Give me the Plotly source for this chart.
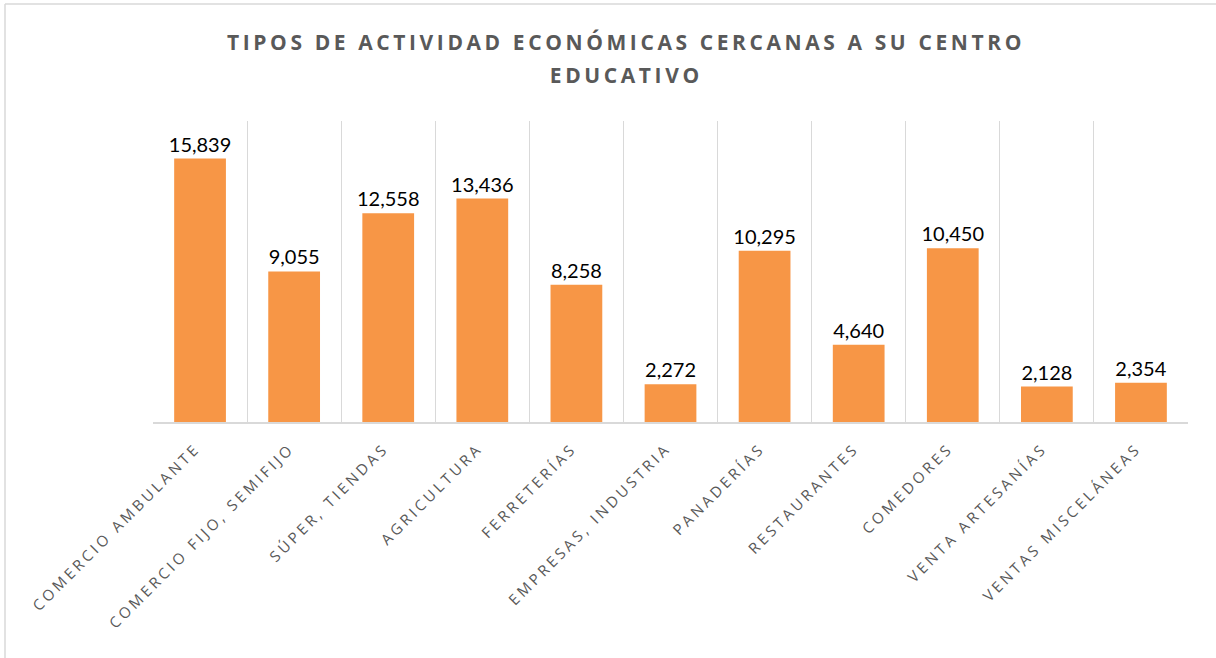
import plotly.graph_objects as go

categories = ["COMERCIO AMBULANTE", "COMERCIO FIJO, SEMIFIJO", "SÚPER, TIENDAS", "AGRICULTURA",
              "FERRETERÍAS", "EMPRESAS, INDUSTRIA", "PANADERÍAS", "RESTAURANTES",
              "COMEDORES", "VENTA ARTESANÍAS", "VENTAS MISCELÁNEAS"]
values = [15839, 9055, 12558, 13436, 8258, 2272, 10295, 4640, 10450, 2128, 2354]
labels = [f"{v:,}" for v in values]
title_lines = ["TIPOS DE ACTIVIDAD ECONÓMICAS CERCANAS A SU CENTRO", "EDUCATIVO"]

W, H = 1216, 658
L, R, T, B = 153, 28, 121, 236

fig = go.Figure(go.Bar(
    x=categories, y=values, text=labels, textposition="outside",
    textfont=dict(family="Lato, Carlito, sans-serif", size=20, color="#000000"),
    marker=dict(color="#F79646", line=dict(width=0)),
    width=0.55, cliponaxis=False, constraintext="none",
))

pw = W - L - R
ph = H - T - B

annotations = []
for i, (line, ypx) in enumerate(zip(title_lines, [42, 75])):
    annotations.append(dict(
        text=f"<b>{line}</b>", xref="paper", yref="paper",
        x=(626 - L) / pw, y=(H - B - ypx) / ph, xanchor="center", yanchor="middle",
        showarrow=False, font=dict(family="Open Sans, sans-serif", size=21, color="#595959"),
    ))

fig.update_layout(
    width=W, height=H,
    margin=dict(l=L, r=R, t=T, b=B, autoexpand=False),
    paper_bgcolor="white", plot_bgcolor="white",
    showlegend=False,
    annotations=annotations,
    xaxis=dict(
        tickangle=-45, tickson="boundaries", showgrid=True, gridcolor="#D9D9D9", gridwidth=1.3,
        showline=True, linecolor="#D9D9D9", linewidth=1.5, ticks="",
        ticklabelshift=-4, ticklabelstandoff=10,
        tickfont=dict(family="Open Sans, sans-serif", size=15, color="#595959"),
        range=[-0.5, len(categories) - 0.5],
    ),
    yaxis=dict(range=[0, 18100], showgrid=False, showticklabels=False, zeroline=False, ticks=""),
    shapes=[
        dict(type="line", xref="paper", yref="paper",
             x0=(5 - L) / pw, x1=(5 - L) / pw, y0=(H - B - 4) / ph, y1=(H - B - H - 5) / ph,
             line=dict(color="#D9D9D9", width=1.5)),
        dict(type="line", xref="paper", yref="paper",
             x0=(5 - L) / pw, x1=(W + 5 - L) / pw, y0=(H - B - 4) / ph, y1=(H - B - 4) / ph,
             line=dict(color="#D9D9D9", width=1.5)),
    ],
)

post = """
var s = document.createElement('style');
s.innerHTML = 'body{margin:0 !important;} .xtick text{letter-spacing:3.3px;} .annotation-text{letter-spacing:3.6px;}';
document.head.appendChild(s);
"""
fig.write_html("out.html", post_script=post, config={"displayModeBar": False})
